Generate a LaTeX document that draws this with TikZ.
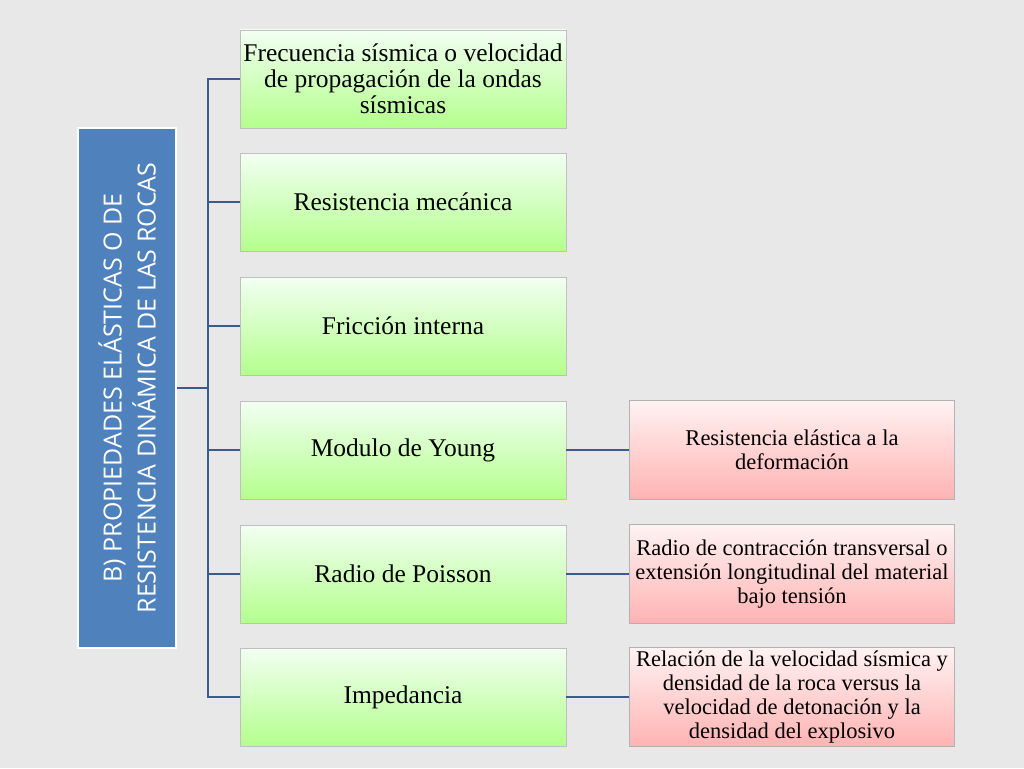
\documentclass[tikz,border=0pt]{standalone}
\usepackage{fontspec}
\setmainfont{Liberation Serif}
\setsansfont{Open Sans}
\usetikzlibrary{calc}
\definecolor{mainblue}{RGB}{79,129,189}
\definecolor{linkblue}{RGB}{60,90,140}
\tikzset{
  item/.style={draw=black!25, top color=green!5!white, bottom color=green!35!white!85!yellow,
    minimum width=326pt, minimum height=98pt, align=center, font=\fontsize{25.5}{26}\selectfont,
    inner sep=2pt},
  note/.style={draw=black!30, top color=red!5!white, bottom color=red!30!white,
    minimum width=325pt, minimum height=99pt, align=center, font=\fontsize{22.5}{24}\selectfont,
    inner sep=2pt},
  link/.style={draw=linkblue, line width=2pt}
}
\begin{document}
\begin{tikzpicture}[x=1pt,y=-1pt]
  \fill[gray!18] (0,0) rectangle (1024,768);
  \useasboundingbox (0,0) rectangle (1024,768);
  % main box
  \node[draw=white, line width=2pt, fill=mainblue, minimum width=98pt, minimum height=520pt,
    inner sep=0pt] (main) at (127,388) {};
  \node[rotate=90, text=white, align=center, font=\sffamily\fontsize{25}{34}\selectfont] at (main.center)
    {B) PROPIEDADES ELÁSTICAS O DE\\RESISTENCIA DINÁMICA DE LAS ROCAS};
  % items
  \node[item] (f) at (403,79) {Frecuencia sísmica o velocidad\\de propagación de la ondas\\sísmicas};
  \node[item] (r) at (403,202) {Resistencia mecánica};
  \node[item] (i) at (403,326) {Fricción interna};
  \node[item] (y) at (403,450) {Modulo de Young};
  \node[item] (p) at (403,574) {Radio de Poisson};
  \node[item] (z) at (403,697) {Impedancia};
  % notes
  \node[note] (ny) at (792,450) {Resistencia elástica a la\\deformación};
  \node[note] (np) at (792,574) {Radio de contracción transversal o\\extensión longitudinal del material\\bajo tensión};
  \node[note] (nz) at (792,697) {Relación de la velocidad sísmica y\\densidad de la roca versus la\\velocidad de detonación y la\\densidad del explosivo};
  % connectors
  \coordinate (t) at (208,388);
  \draw[link] (main.east) -- (t);
  \draw[link] (f.west) -| (t) |- (z.west);
  \foreach \n in {r,i,y,p} \draw[link] (\n.west) -- (\n.west -| t);
  \draw[link] (y.east) -- (ny.west);
  \draw[link] (p.east) -- (np.west);
  \draw[link] (z.east) -- (nz.west);
\end{tikzpicture}
\end{document}
